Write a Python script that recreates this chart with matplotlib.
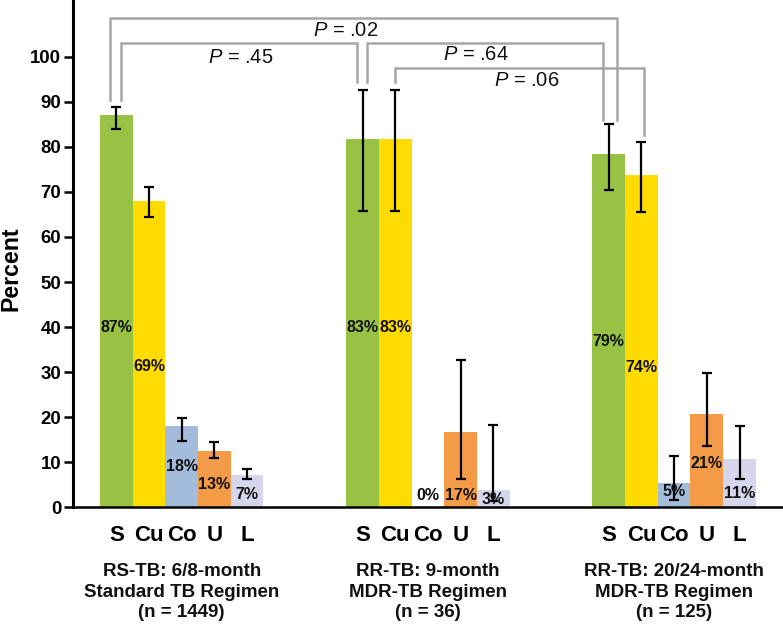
import matplotlib
matplotlib.use("Agg")
import matplotlib.pyplot as plt
import numpy as np

plt.rcParams['font.family'] = ['Liberation Sans', 'DejaVu Sans']
plt.rcParams['mathtext.fontset'] = 'custom'
plt.rcParams['mathtext.it'] = 'Liberation Sans:italic'
plt.rcParams['mathtext.rm'] = 'Liberation Sans'

# ---------------- data ----------------
outcomes = ["S", "Cu", "Co", "U", "L"]
groups = ["RS-TB: 6/8-month\nStandard TB Regimen\n(n = 1449)",
          "RR-TB: 9-month\nMDR-TB Regimen\n(n = 36)",
          "RR-TB: 20/24-month\nMDR-TB Regimen\n(n = 125)"]
values = [[87.0, 68.0, 18.0, 12.5, 7.2],
          [81.8, 81.8, 0.0, 16.8, 3.8],
          [78.4, 73.7, 5.4, 20.7, 10.7]]
err_low = [[84.0, 64.4, 14.8, 10.9, 6.3],
           [65.8, 65.8, None, 6.2, 1.5],
           [70.4, 65.5, 1.6, 13.5, 6.3]]
err_high = [[88.9, 71.1, 19.9, 14.6, 8.5],
            [92.7, 92.7, None, 32.6, 18.2],
            [85.0, 81.0, 11.4, 29.7, 18.0]]
pct_labels = [["87%", "69%", "18%", "13%", "7%"],
              ["83%", "83%", "0%", "17%", "3%"],
              ["79%", "74%", "5%", "21%", "11%"]]
label_y = [[40.0, 31.2, 9.0, 5.1, 2.9],
           [40.0, 40.0, 2.7, 2.7, 1.8],
           [36.7, 31.0, 3.5, 9.8, 3.1]]
p_texts = ["P = .02", "P = .45", "P = .64", "P = .06"]

colors = ["#98C244", "#FFDB00", "#A3BCDC", "#F39B47", "#D7D5EC"]
GAP = 7.53

fig = plt.figure(figsize=(7.83, 6.28), dpi=100)
ax = fig.add_axes([73 / 783, (628 - 507.3) / 628, 1 - 73 / 783, 507.3 / 628])

xs_all, lab_all = [], []
for g in range(3):
    for i in range(5):
        x = g * GAP + i
        v = values[g][i]
        ax.bar(x, v, width=1.0, color=colors[i], edgecolor='none', zorder=2)
        if err_low[g][i] is not None:
            lo = v - err_low[g][i]
            hi = err_high[g][i] - v
            ax.errorbar(x, v, yerr=[[lo], [hi]], fmt='none', ecolor='black',
                        elinewidth=1.6, capsize=3.8, capthick=1.6, zorder=4)
        ax.text(x, label_y[g][i], pct_labels[g][i], ha='center', va='center',
                fontsize=11.5, fontweight='bold', color='#111111', zorder=5)
        xs_all.append(x)
        lab_all.append(outcomes[i])
    ax.text(g * GAP + 2, -0.110, groups[g], transform=ax.get_xaxis_transform(),
            ha='center', va='top', fontsize=13.5, fontweight='bold',
            linespacing=1.27, color='#111111')

ax.set_xticks(xs_all)
ax.set_xticklabels(lab_all, fontsize=16, fontweight='bold')
ax.tick_params(axis='x', length=0, pad=13)

ax.set_ylim(0, 112.6)
ax.set_xlim(-1.326, 20.39)
ax.set_yticks(np.arange(0, 101, 10))
ax.tick_params(axis='y', length=6.5, width=1.8, labelsize=13.4, pad=2)
for t in ax.get_yticklabels():
    t.set_fontweight('bold')
ax.set_ylabel("Percent", fontsize=16.7, fontweight='bold')
ax.yaxis.set_label_coords(-0.0718, 0.47)

for s in ['top', 'right']:
    ax.spines[s].set_visible(False)
ax.spines['left'].set_linewidth(2.2)
ax.spines['bottom'].set_linewidth(1.8)

# significance brackets
S1, S2, S3 = 0, GAP, 2 * GAP
C2, C3 = GAP + 1, 2 * GAP + 1
brackets = [
    (S1 - 0.2, S3 + 0.24, 90.4, 86.0, 108.5, p_texts[0], 7.0, 105.8),
    (S1 + 0.13, S2 - 0.18, 90.4, 94.5, 103.0, p_texts[1], 3.8, 99.9),
    (S2 + 0.14, S3 - 0.19, 94.5, 86.0, 103.0, p_texts[2], 11.0, 100.4),
    (C2 - 0.01, C3 + 0.09, 94.5, 82.7, 97.4, p_texts[3], 12.55, 94.7),
]
gray = "#A6A6A6"
for x1, x2, y1, y2, yt, txt, tx, ty in brackets:
    ax.plot([x1, x1, x2, x2], [y1, yt, yt, y2], color=gray, lw=1.8,
            solid_joinstyle='miter', zorder=3, clip_on=False)
    t = txt.replace("P", "$P$", 1)
    ax.text(tx, ty, t, ha='center', va='center', fontsize=14.5, color='#111111',
            zorder=5)

fig.savefig("out.png", dpi=100)
